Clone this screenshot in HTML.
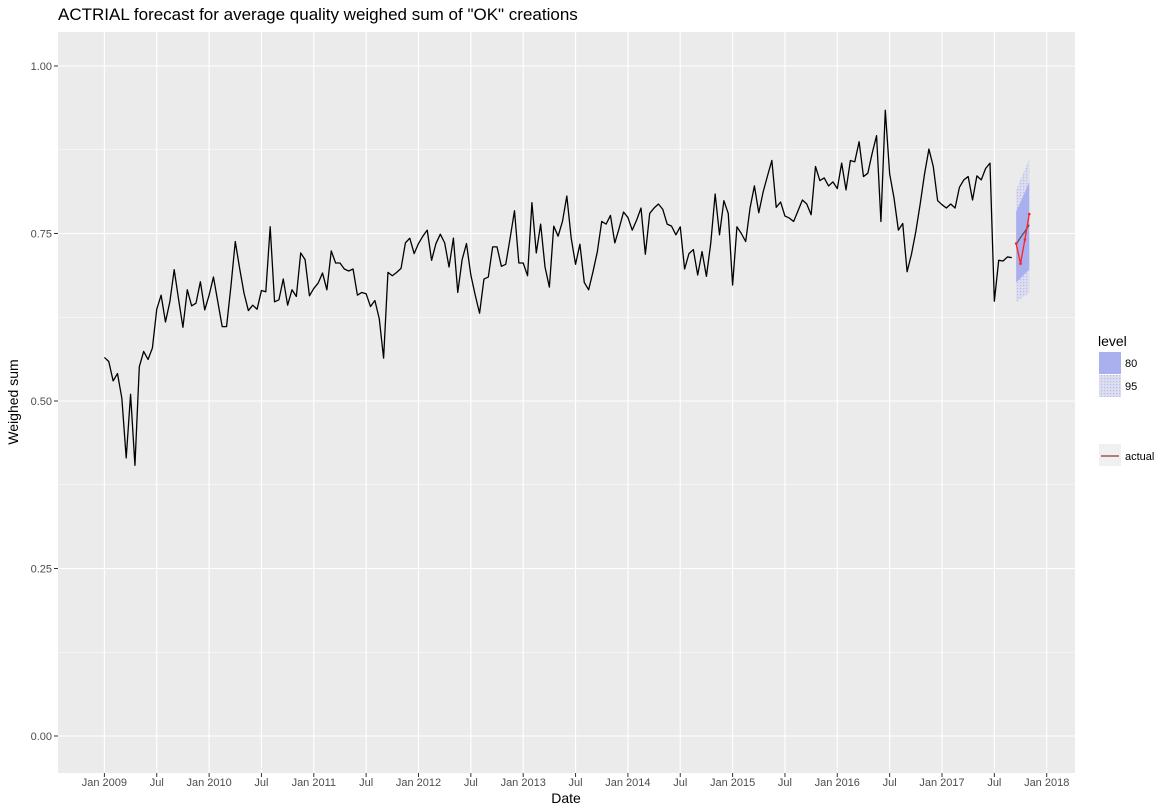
<!DOCTYPE html>
<html><head><meta charset="utf-8"><style>
body{margin:0;background:#fff;}
svg{display:block;font-family:"Liberation Sans",Arial,sans-serif;}
</style></head><body>
<svg id="chart" width="1170" height="810" xmlns="http://www.w3.org/2000/svg">
<defs>
<pattern id="dots" width="3" height="3" patternUnits="userSpaceOnUse">
<rect width="3" height="3" fill="#dcdef0"/><rect width="1.2" height="1.2" fill="#b6bbe8"/>
</pattern>
</defs>
<text x="58" y="20" font-size="17" fill="#000">ACTRIAL forecast for average quality weighed sum of "OK" creations</text>
<rect x="58" y="32" width="1017" height="741" fill="#ebebeb"/>
<g id="grid"></g>
<g id="bands"></g>
<g id="lines"></g>
<g id="axes"></g>
<text x="566" y="803" font-size="14" text-anchor="middle">Date</text>
<text transform="translate(18,402) rotate(-90)" font-size="14" text-anchor="middle">Weighed sum</text>
<g>
<text x="1098" y="346" font-size="14">level</text>
<rect x="1099" y="352" width="22" height="22" fill="#aab0ee"/>
<text x="1125" y="367" font-size="11">80</text>
<rect x="1099" y="375" width="22" height="22" fill="url(#dots)"/>
<text x="1125" y="390" font-size="11">95</text>
</g>
<g>
<rect x="1099" y="444" width="22" height="22" fill="#f0f0f0"/>
<line x1="1101" y1="456" x2="1119" y2="456" stroke="#8a3a3a" stroke-width="1.2"/>
<text x="1125" y="460" font-size="11">actual</text>
</g>
</svg>
<script>
const seriesValues=[.565,.559,.530,.541,.504,.415,.510,.404,.551,.574,.562,.579,.637,.658,.618,.648,.696,.652,.610,.666,.642,.646,.678,.636,.658,.685,.648,.611,.611,.671,.738,.698,.661,.635,.643,.637,.665,.663,.760,.648,.651,.682,.643,.666,.656,.721,.711,.657,.668,.676,.691,.666,.724,.706,.706,.697,.694,.697,.658,.662,.660,.641,.650,.623,.564,.692,.687,.692,.698,.736,.743,.720,
.735,.746,.755,.710,.735,.749,.736,.700,.743,.662,.711,.735,.688,.658,.631,.682,.685,.730,.730,.701,.704,.743,.784,.706,.706,.687,.796,.721,.764,.700,.670,.761,.746,.768,.806,.743,.704,.734,.677,.666,.693,.723,.768,.764,.777,.736,.758,.782,.774,.755,.770,.788,.719,.780,.788,.794,.786,.764,.761,.748,.760,.697,.720,.726,.688,.723,.686,.736,.809,.748,.799,.780,
.673,.760,.750,.738,.788,.821,.781,.812,.836,.859,.789,.797,.776,.773,.768,.784,.800,.794,.778,.850,.829,.833,.821,.827,.817,.855,.815,.859,.857,.887,.835,.840,.870,.896,.768,.934,.839,.803,.755,.765,.693,.719,.753,.794,.839,.876,.850,.799,.793,.788,.794,.788,.819,.830,.835,.800,.836,.830,.847,.855,.649,.710,.709,.715,.714];
const forecastIndex=[209,210,211,212];
const forecastMean=[.734,.744,.753,.763];
const actualTest=[.735,.705,.741,.779];
const hi80=[.783,.797,.812,.827];
const lo80=[.677,.683,.690,.696];
const hi95=[.815,.831,.846,.862];
const lo95=[.648,.652,.657,.661];
const yTicks=[0,0.25,0.5,0.75,1];
const yTickLabels=["0.00","0.25","0.50","0.75","1.00"];
const xTickIdx=[0,12,24,36,48,60,72,84,96,108,120,132,144,156,168,180,192,204,216];
const xTickLabels=["Jan 2009","Jul","Jan 2010","Jul","Jan 2011","Jul","Jan 2012","Jul","Jan 2013","Jul","Jan 2014","Jul","Jan 2015","Jul","Jan 2016","Jul","Jan 2017","Jul","Jan 2018"];

const NS="http://www.w3.org/2000/svg";
function xs(i){return 104.4+i*4.3625;}
function ys(v){return 736-v*670;}
function mk(tag,attrs,parent){const e=document.createElementNS(NS,tag);for(const k in attrs)e.setAttribute(k,attrs[k]);document.getElementById(parent).appendChild(e);return e;}

// grid
for(let k=0;k<yTicks.length;k++){
  const g=mk('line',{x1:58,x2:1075,y1:ys(yTicks[k]),y2:ys(yTicks[k]),stroke:'#fff','stroke-width':1.1},'grid');
  
  
  if(k<yTicks.length-1){const m=(yTicks[k]+yTicks[k+1])/2;
    const gm=mk('line',{x1:58,x2:1075,y1:ys(m),y2:ys(m),stroke:'#fff','stroke-width':0.5},'grid');
    
    }
  const t=mk('text',{x:52,y:ys(yTicks[k])+4,'font-size':11,fill:'#4d4d4d','text-anchor':'end'},'axes');
  t.textContent=yTickLabels[k];
  
  
  mk('line',{x1:54,x2:58,y1:ys(yTicks[k]),y2:ys(yTicks[k]),stroke:'#333','stroke-width':1},'axes');
}
for(let k=0;k<xTickIdx.length;k++){
  const x=xs(xTickIdx[k]);
  const g=mk('line',{x1:x,x2:x,y1:32,y2:773,stroke:'#fff','stroke-width':1.1},'grid');
  
  
  mk('line',{x1:x,x2:x,y1:773,y2:777,stroke:'#333','stroke-width':1},'axes');
  const t=mk('text',{x:x,y:786,'font-size':11,fill:'#4d4d4d','text-anchor':'middle'},'axes');
  t.textContent=xTickLabels[k];
  
  
}
// bands
function band(hi,lo,fill,name){
  let d='';
  for(let i=0;i<hi.length;i++)d+=(i?'L':'M')+xs(forecastIndex[i])+','+ys(hi[i]);
  for(let i=lo.length-1;i>=0;i--)d+='L'+xs(forecastIndex[i])+','+ys(lo[i]);
  const p=mk('path',{d:d+'Z',fill:fill},'bands');
  
  
}
band(hi95,lo95,'url(#dots)','band-95');
band(hi80,lo80,'#aab0ee','band-80');
// series
let d='';
for(let i=0;i<seriesValues.length;i++)d+=(i?'L':'M')+xs(i).toFixed(2)+','+ys(seriesValues[i]).toFixed(2);
const ln=mk('path',{d:d,fill:'none',stroke:'#000','stroke-width':1.3,'stroke-linejoin':'round'},'lines');


let dm='';
for(let i=0;i<forecastMean.length;i++)dm+=(i?'L':'M')+xs(forecastIndex[i])+','+ys(forecastMean[i]);
const fm=mk('path',{d:dm,fill:'none',stroke:'#555','stroke-width':1.3},'lines');


let da='';
for(let i=0;i<actualTest.length;i++)da+=(i?'L':'M')+xs(forecastIndex[i])+','+ys(actualTest[i]);
const at=mk('path',{d:da,fill:'none',stroke:'#ff2020','stroke-width':1.3},'lines');


for(let i=0;i<actualTest.length;i++){
  const c=mk('circle',{cx:xs(forecastIndex[i]),cy:ys(actualTest[i]),r:1.3,fill:'#ff2020'},'lines');
  
  
}
</script>
</body></html>
